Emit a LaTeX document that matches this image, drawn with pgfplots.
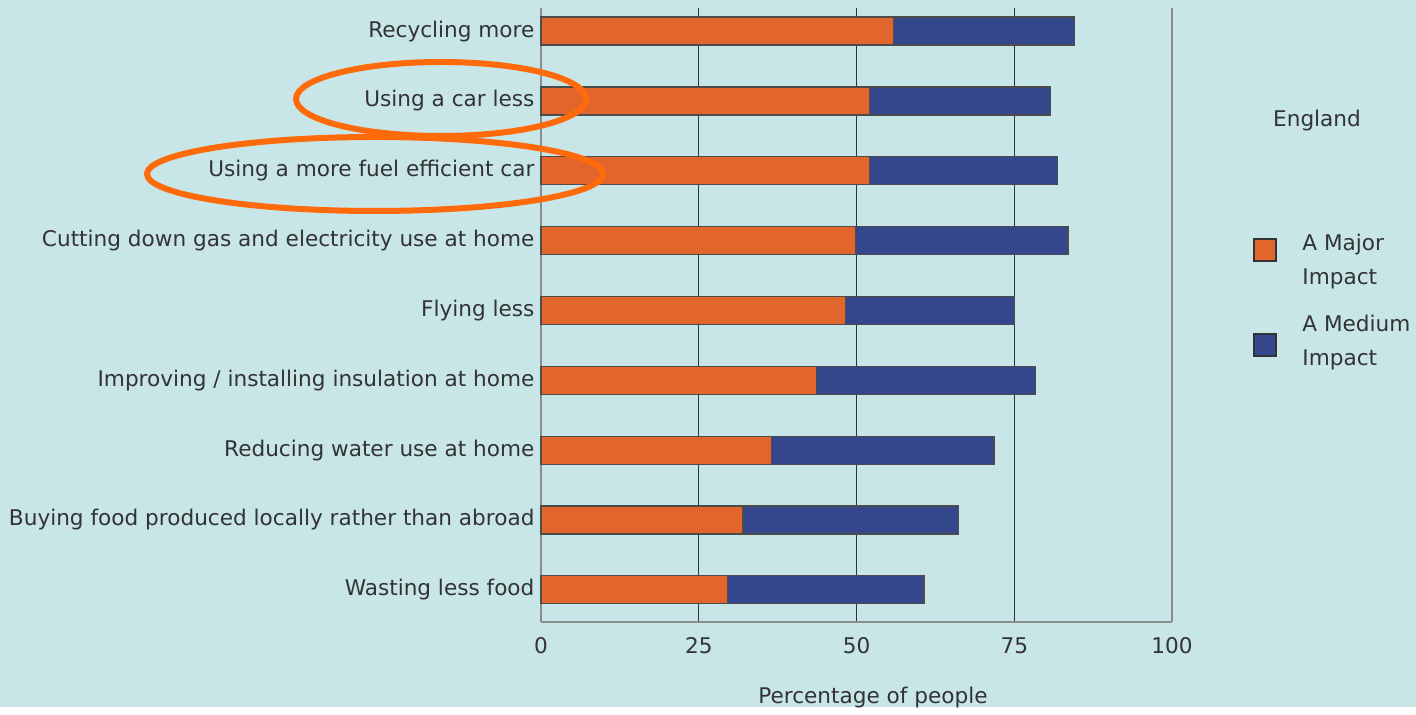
\documentclass[border=0pt]{standalone}
\usepackage{pgfplots}
\pgfplotsset{compat=1.18}
\usepackage{fontspec}
\setmainfont{DejaVu Sans}
\definecolor{bg}{HTML}{C8E6E8}
\definecolor{major}{HTML}{E2662B}
\definecolor{medium}{HTML}{34478C}
\definecolor{txt}{HTML}{333333}
\definecolor{ring}{HTML}{FF6A0A}
\definecolor{axgray}{HTML}{8C8C8C}
\begin{document}
\fontsize{10.8}{13}\selectfont
\begin{tikzpicture}
\fill[bg] (0,0) rectangle (708pt,353.5pt);
\begin{axis}[
  at={(270.5pt,42.5pt)}, anchor=south west,
  scale only axis, width=315.5pt, height=307pt,
  xbar stacked, bar width=14pt,
  y dir=reverse,
  xmin=0, xmax=100, ymin=-0.33, ymax=8.46,
  xtick={0,25,50,75,100},
  ytick={0,...,8},
  yticklabels={Recycling more, Using a car less, Using a more fuel efficient car, Cutting down gas and electricity use at home, Flying less, Improving / installing insulation at home, Reducing water use at home, Buying food produced locally rather than abroad, Wasting less food},
  axis lines*=left,
  axis line style={draw=axgray, line width=1.4pt, -},
  major tick length=0pt,
  xmajorgrids, major grid style={black!80, line width=0.7pt},
  tick label style={text=txt, font=\fontsize{10.8}{13}\selectfont},
  xticklabel style={yshift=-4pt},
  yticklabel style={xshift=0.5pt},
  /pgf/number format/assume math mode=true,
  clip=false,
]
\draw[axgray, line width=1.3pt] (axis cs:100,-0.33) -- (axis cs:100,8.46);
\addplot[fill=major, draw=black!70, line width=0.6pt] coordinates {
(55.8,0) (52.0,1) (52.0,2) (49.8,3) (48.2,4) (43.7,5) (36.5,6) (32.0,7) (29.6,8)};
\addplot[fill=medium, draw=black!70, line width=0.6pt] coordinates {
(28.7,0) (28.8,1) (29.8,2) (33.7,3) (26.8,4) (34.7,5) (35.3,6) (34.1,7) (31.1,8)};
\end{axis}
\draw[ring, line width=3pt] (220.5pt,304pt) ellipse [x radius=72.5pt, y radius=18.5pt];
\draw[ring, line width=3pt] (187.5pt,266.5pt) ellipse [x radius=114pt, y radius=18.5pt];
\node[text=txt] at (658.5pt,293pt) {England};
\draw[fill=major, draw=black!80, line width=0.8pt] (627pt,223pt) rectangle (638pt,234pt);
\draw[fill=medium, draw=black!80, line width=0.8pt] (627pt,175.5pt) rectangle (638pt,186.5pt);
\node[text=txt, anchor=west, align=left, inner sep=0pt, font=\fontsize{10.8}{17}\selectfont] at (651pt,222.5pt) {A Major\\Impact};
\node[text=txt, anchor=west, align=left, inner sep=0pt, font=\fontsize{10.8}{17}\selectfont] at (651pt,182.25pt) {A Medium\\Impact};
\node[text=txt, anchor=base] at (436.5pt,2pt) {Percentage of people};
\end{tikzpicture}
\end{document}
